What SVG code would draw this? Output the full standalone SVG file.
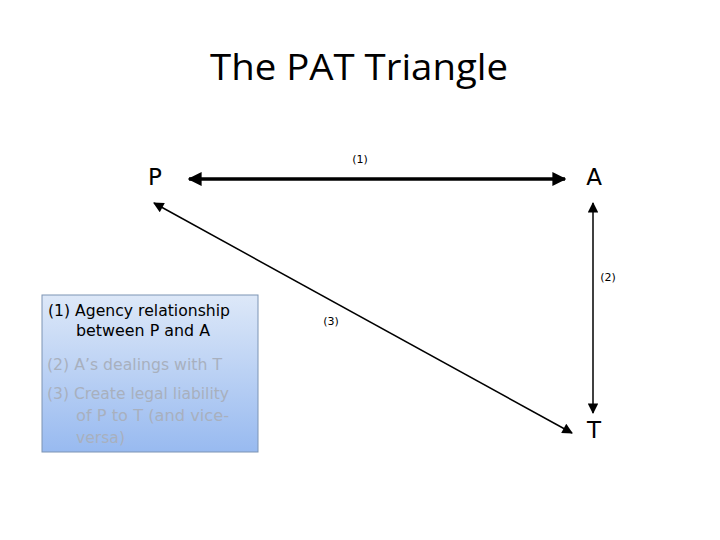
<svg xmlns="http://www.w3.org/2000/svg" width="720" height="540" viewBox="0 0 720 540">
<defs>
<linearGradient id="bg" x1="0" y1="0" x2="0" y2="1">
<stop offset="0" stop-color="#dde8f8"/>
<stop offset="1" stop-color="#98baf0"/>
</linearGradient>
<marker id="ah" viewBox="0 0 10 10" refX="9" refY="5" markerWidth="4" markerHeight="4" orient="auto-start-reverse" markerUnits="strokeWidth">
<path d="M0,0 L10,5 L0,10 z" fill="#000"/>
</marker>
<marker id="ahs" viewBox="0 0 10 10" refX="9" refY="5" markerWidth="9" markerHeight="7" orient="auto-start-reverse" markerUnits="strokeWidth">
<path d="M0,0 L10,5 L0,10 z" fill="#000"/>
</marker>
</defs>
<style>
.node{font-family:"DejaVu Sans","Liberation Sans",sans-serif;font-size:23px;fill:#000}
.num{font-family:"DejaVu Sans","Liberation Sans",sans-serif;font-size:11px;fill:#000}
.key{font-family:"DejaVu Sans","Liberation Sans",sans-serif;font-size:15px}
.dim{fill:#a8b0be}
</style>
<rect width="720" height="540" fill="#fff"/>
<text x="359" y="80" text-anchor="middle" font-family="Open Sans, Liberation Sans, sans-serif" font-size="37" fill="#000" textLength="298" lengthAdjust="spacingAndGlyphs">The PAT Triangle</text>
<g id="connectors" stroke="#000" fill="none">
<line x1="189" y1="179" x2="565" y2="179" stroke-width="3.5" marker-start="url(#ah)" marker-end="url(#ah)"/>
<line x1="593" y1="203" x2="593" y2="413" stroke-width="1.5" marker-start="url(#ahs)" marker-end="url(#ahs)"/>
<line x1="154" y1="203" x2="572" y2="433" stroke-width="1.5" marker-start="url(#ahs)" marker-end="url(#ahs)"/>
</g>
<g id="node-P"><text class="node" x="155" y="185" text-anchor="middle">P</text></g>
<g id="node-A"><text class="node" x="594" y="185" text-anchor="middle">A</text></g>
<g id="node-T"><text class="node" x="594" y="438" text-anchor="middle">T</text></g>
<g id="labels">
<text class="num" x="360" y="163" text-anchor="middle">(1)</text>
<text class="num" x="608" y="281" text-anchor="middle">(2)</text>
<text class="num" x="331" y="325" text-anchor="middle">(3)</text>
</g>
<g id="legend">
<rect x="42" y="295" width="216" height="157" fill="url(#bg)" stroke="#7d94b4" stroke-width="1"/>
<g class="key">
<text x="48" y="316" fill="#000" textLength="182" lengthAdjust="spacingAndGlyphs">(1) Agency relationship</text>
<text x="76" y="336" fill="#000" textLength="134" lengthAdjust="spacingAndGlyphs">between P and A</text>
<text class="dim" x="47" y="370" textLength="175" lengthAdjust="spacingAndGlyphs">(2) A’s dealings with T</text>
<text class="dim" x="47" y="399" textLength="182" lengthAdjust="spacingAndGlyphs">(3) Create legal liability</text>
<text class="dim" x="76" y="421" textLength="153" lengthAdjust="spacingAndGlyphs">of P to T (and vice-</text>
<text class="dim" x="76" y="443" textLength="49" lengthAdjust="spacingAndGlyphs">versa)</text>
</g>
</g>
</svg>
